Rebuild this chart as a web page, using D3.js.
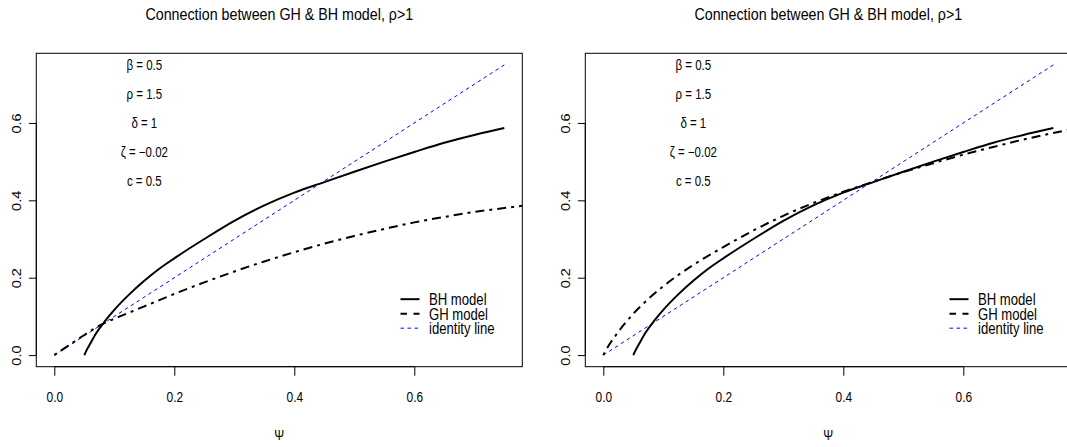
<html>

<head>
  <script src="https://cdn.jsdelivr.net/npm/d3@7"></script>
  <style>
    body { margin: 0; background: #fff; }
    text { font-family: "Liberation Sans", Arial, Helvetica, sans-serif; fill: #000; }
  </style>
  <script>
    // chart data
    var mainTitle = "Connection between GH & BH model, \u03c1>1";
    var xLabel = "\u03a8";
    var xTicks = [0, 0.2, 0.4, 0.6];
    var yTicks = [0, 0.2, 0.4, 0.6];

    var bhPsi = [0.05, 0.055, 0.06, 0.07, 0.085, 0.1, 0.125, 0.15, 0.175, 0.2, 0.25, 0.3, 0.35, 0.4, 0.45, 0.5, 0.55, 0.6, 0.65, 0.7, 0.75];
    var bhVal = [0, 0.016, 0.03, 0.057, 0.089, 0.117, 0.157, 0.192, 0.223, 0.25, 0.3, 0.347, 0.387, 0.42, 0.447, 0.474, 0.5, 0.525, 0.549, 0.569, 0.587];

    var ghPsiLeft = [0, 0.025, 0.05, 0.075, 0.1, 0.125, 0.15, 0.175, 0.2, 0.25, 0.3, 0.35, 0.4, 0.45, 0.5, 0.55, 0.6, 0.65, 0.7, 0.75, 0.78];
    var ghValLeft = [0, 0.026, 0.052, 0.076, 0.094, 0.11, 0.126, 0.142, 0.158, 0.188, 0.216, 0.242, 0.266, 0.288, 0.308, 0.326, 0.343, 0.357, 0.37, 0.38, 0.386];

    var ghPsiRight = [0, 0.005, 0.0125, 0.025, 0.05, 0.075, 0.1, 0.125, 0.15, 0.2, 0.25, 0.3, 0.35, 0.4, 0.45, 0.5, 0.55, 0.6, 0.65, 0.7, 0.75, 0.78];
    var ghValRight = [0, 0.014, 0.033, 0.06, 0.107, 0.145, 0.178, 0.207, 0.233, 0.279, 0.322, 0.36, 0.393, 0.422, 0.448, 0.473, 0.496, 0.518, 0.538, 0.557, 0.574, 0.584];

    var identityPsi = [0, 0.75];

    var paramLabels = ["\u03b2 = 0.5", "\u03c1 = 1.5", "\u03b4 = 1", "\u03b6 = \u22120.02", "c = 0.5"];
    var legendLabels = ["BH model", "GH model", "identity line"];

    window.onload = function () {
      var W = 1067, H = 447;
      var SX = 0.82;   // text in the picture is squeezed sideways
      var top = 53.3, bottom = 366.7, plotW = 486;

      var svg = d3.select("body").append("svg").attr("width", W).attr("height", H);

      var panels = [
        { left: 36.3, ghPsi: ghPsiLeft, ghVal: ghValLeft },
        { left: 585.3, ghPsi: ghPsiRight, ghVal: ghValRight }
      ];

      panels.forEach(function (p, i) {
        var x = d3.scaleLinear().domain([-0.03, 0.78]).range([p.left, p.left + plotW]);
        var y = d3.scaleLinear().domain([-0.03, 0.78]).range([bottom, top]);
        var g = svg.append("g");
        var mid = p.left + plotW / 2;

        g.append("clipPath").attr("id", "clip" + i)
          .append("rect")
          .attr("x", p.left).attr("y", top)
          .attr("width", plotW).attr("height", bottom - top);

        // title
        g.append("text")
          .attr("transform", "translate(" + mid + ",20) scale(" + SX + ",1)")
          .attr("text-anchor", "middle")
          .style("font-size", "17.4px")
          .text(mainTitle);

        // x label
        g.append("text")
          .attr("transform", "translate(" + mid + ",440) scale(" + SX + ",1)")
          .attr("text-anchor", "middle")
          .style("font-size", "14.5px")
          .text(xLabel);

        // axes
        var xAxis = g.append("g")
          .attr("transform", "translate(0," + bottom + ")")
          .call(d3.axisBottom(x).tickValues(xTicks).tickFormat(d3.format(".1f")).tickSize(9));
        xAxis.select(".domain").remove();
        xAxis.selectAll("line").attr("stroke", "#000");
        xAxis.selectAll("text")
          .attr("y", 35.5).attr("dy", null)
          .attr("transform", "scale(" + SX + ",1)")
          .style("font-size", "14.5px")
          .style("font-family", null);
        xAxis.append("line")
          .attr("x1", x(xTicks[0])).attr("x2", x(xTicks[xTicks.length - 1]))
          .attr("stroke", "#000");

        var yAxis = g.append("g")
          .attr("transform", "translate(" + p.left + ",0)")
          .call(d3.axisLeft(y).tickValues(yTicks).tickFormat(d3.format(".1f")).tickSize(7.4));
        yAxis.select(".domain").remove();
        yAxis.selectAll("line").attr("stroke", "#000");
        yAxis.selectAll("text")
          .attr("x", null).attr("dy", null)
          .attr("text-anchor", "middle")
          .attr("transform", "translate(-15.8,0) scale(" + SX + ",1) rotate(-90)")
          .style("font-size", "14.5px")
          .style("font-family", null);
        yAxis.append("line")
          .attr("x1", 0).attr("x2", 0)
          .attr("y1", y(yTicks[0])).attr("y2", y(yTicks[yTicks.length - 1]))
          .attr("stroke", "#000");

        // curves
        var curves = g.append("g").attr("clip-path", "url(#clip" + i + ")");
        var line = d3.line().curve(d3.curveMonotoneX);

        curves.append("path")
          .attr("d", line(identityPsi.map(function (v) { return [x(v), y(v)]; })))
          .attr("fill", "none").attr("stroke", "#0000ff").attr("stroke-width", 1)
          .attr("stroke-dasharray", "3.5,3.5");

        curves.append("path")
          .attr("d", line(p.ghPsi.map(function (v, j) { return [x(v), y(p.ghVal[j])]; })))
          .attr("fill", "none").attr("stroke", "#000").attr("stroke-width", 2)
          .attr("stroke-dasharray", "3,5,9,5");

        curves.append("path")
          .attr("d", line(bhPsi.map(function (v, j) { return [x(v), y(bhVal[j])]; })))
          .attr("fill", "none").attr("stroke", "#000").attr("stroke-width", 2);

        // parameter notes
        var noteY = [0.75, 0.675, 0.6, 0.525, 0.45];
        paramLabels.forEach(function (t, j) {
          g.append("text")
            .attr("transform", "translate(" + x(0.15) + "," + (y(noteY[j]) + 5) + ") scale(" + SX + ",1)")
            .attr("text-anchor", "middle")
            .style("font-size", "14px")
            .text(t);
        });

        // legend
        var lx = x(0.577), ly = y(0.1445), step = 14.5;
        var styles = [
          { color: "#000", width: 2, dash: null },
          { color: "#000", width: 2, dash: "6.5,6.5" },
          { color: "#0000ff", width: 1, dash: "3.5,3.5" }
        ];
        legendLabels.forEach(function (t, j) {
          var ry = ly + j * step;
          g.append("line")
            .attr("x1", lx).attr("x2", lx + 19)
            .attr("y1", ry).attr("y2", ry)
            .attr("stroke", styles[j].color)
            .attr("stroke-width", styles[j].width)
            .attr("stroke-dasharray", styles[j].dash);
          g.append("text")
            .attr("transform", "translate(" + (lx + 28.5) + "," + (ry + 6) + ") scale(" + SX + ",1)")
            .style("font-size", "16px")
            .text(t);
        });

        // box
        g.append("rect")
          .attr("x", p.left).attr("y", top)
          .attr("width", plotW).attr("height", bottom - top)
          .attr("fill", "none").attr("stroke", "#000").attr("stroke-width", 1);
      });
    };
  </script>
</head>

<body>
</body>

</html>
